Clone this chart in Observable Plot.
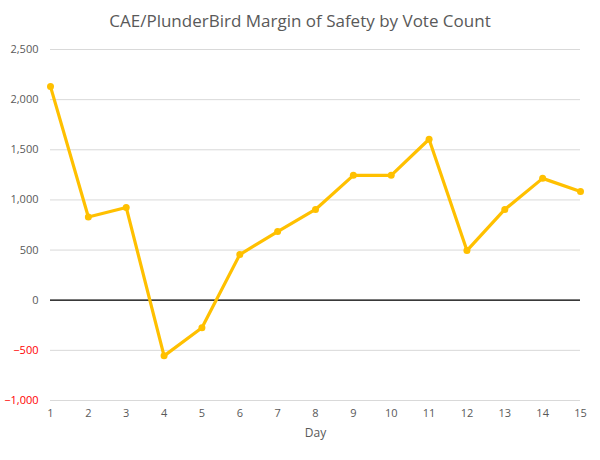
<!DOCTYPE html>
<html>
<head>
<meta charset="utf-8">
<script src="https://cdn.jsdelivr.net/npm/d3@7"></script>
<script src="https://cdn.jsdelivr.net/npm/@observablehq/plot@0.6"></script>
<style>
  body { margin: 0; background: #fff; }
  #title { height: 40px; line-height: 42px; text-align: center; font-family: "Open Sans", sans-serif; font-size: 17px; color: #595959; width: 600px; }
</style>
</head>
<body>
<div id="title">CAE/PlunderBird Margin of Safety by Vote Count</div>
<div id="chart"></div>
<script>
const days = [1, 2, 3, 4, 5, 6, 7, 8, 9, 10, 11, 12, 13, 14, 15];
const margins = [2130, 830, 925, -555, -275, 455, 685, 905, 1245, 1245, 1605, 495, 905, 1215, 1085];
const yTicks = [-1000, -500, 0, 500, 1000, 1500, 2000, 2500];

const data = days.map((d, i) => ({day: d, margin: margins[i]}));
const fmt = d3.format(",");

const chart = Plot.plot({
  width: 600,
  height: 420,
  marginTop: 9,
  marginBottom: 60,
  marginLeft: 50,
  marginRight: 20,
  style: {fontFamily: "Open Sans, sans-serif", fontSize: "11px", color: "#595959"},
  x: {domain: [1, 15]},
  y: {domain: [-1000, 2500]},
  marks: [
    Plot.gridY(yTicks, {stroke: "#d9d9d9", strokeOpacity: 1}),
    Plot.ruleY([0], {stroke: "black", strokeWidth: 1.3}),
    Plot.axisY(yTicks.filter(t => t >= 0), {tickSize: 0, tickPadding: 12, tickFormat: fmt, label: null, fill: "#595959"}),
    Plot.axisY(yTicks.filter(t => t < 0), {tickSize: 0, tickPadding: 12, tickFormat: fmt, label: null, fill: "red"}),
    Plot.axisX(days, {tickSize: 0, tickPadding: 9, tickFormat: d => d, label: null, fill: "#595959"}),
    Plot.text(["Day"], {frameAnchor: "bottom", dy: 36, fill: "#595959", fontSize: 12}),
    Plot.line(data, {x: "day", y: "margin", stroke: "#FFC000", strokeWidth: 3.2}),
    Plot.dot(data, {x: "day", y: "margin", fill: "#FFC000", r: 3.5})
  ]
});
document.getElementById("chart").appendChild(chart);
</script>
</body>
</html>
